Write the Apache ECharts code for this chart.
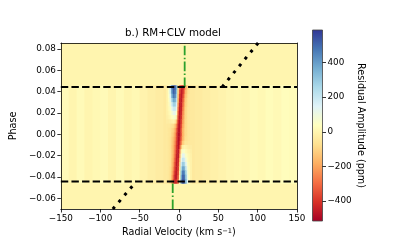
<!DOCTYPE html>
<html><head><meta charset="utf-8">
<script src="https://cdn.jsdelivr.net/npm/echarts@6/dist/echarts.min.js"></script>
<style>html,body{margin:0;padding:0;background:#fff}#c{width:399px;height:249px}</style>
</head><body><div id="c"></div>
<script>
// ---------- data ----------
const xTicks = [-150, -100, -50, 0, 50, 100, 150];
const yTicks = [-0.06, -0.04, -0.02, 0.0, 0.02, 0.04, 0.06, 0.08];
const cbTicks = [-400, -200, 0, 200, 400];
const velRange = [-150, 150];
const phaseRange = [-0.0701, 0.0857];
const ampRange = [-515, 588];
const backgroundAmp = 0;
const transitPhase = [0.0443, -0.0443];
const bandPhase = [-0.046, 0.046];

// central model grid: velocity cell centres (km/s, 2 km/s wide), phase row centres (0.004 tall)
const gridVel = [-15, -13, -11, -9, -7, -5, -3, -1, 1, 3, 5, 7, 9, 11, 13, 15];
const gridPhase = [0.044, 0.040, 0.036, 0.032, 0.028, 0.024, 0.020, 0.016, 0.012, 0.008, 0.004, 0.000,
  -0.004, -0.008, -0.012, -0.016, -0.020, -0.024, -0.028, -0.032, -0.036, -0.040, -0.044];
const gridAmp = [
  [-10, 60, 200, 430, 540, 520, 350, -60, -300, -430, -440, -330, -170, -100, -60, -40],
  [-10, 50, 180, 400, 520, 500, 320, -100, -350, -450, -420, -280, -150, -90, -60, -40],
  [-10, 40, 150, 340, 470, 460, 280, -140, -400, -460, -390, -230, -130, -80, -50, -40],
  [-10, 30, 110, 260, 380, 380, 220, -180, -430, -460, -350, -200, -110, -70, -50, -40],
  [-10, 20, 80, 180, 280, 290, 160, -230, -450, -450, -320, -180, -100, -70, -50, -40],
  [-10, 10, 50, 120, 190, 200, 100, -280, -460, -440, -290, -160, -90, -60, -50, -40],
  [-15, 0, 30, 70, 120, 130, 40, -330, -470, -430, -260, -150, -90, -60, -50, -40],
  [-20, -10, 10, 30, 60, 60, -40, -370, -470, -410, -240, -140, -90, -60, -50, -40],
  [-30, -30, -20, -10, 0, -20, -150, -410, -470, -380, -220, -130, -80, -60, -50, -40],
  [-40, -40, -50, -60, -80, -130, -250, -440, -470, -350, -200, -120, -80, -60, -50, -40],
  [-40, -50, -60, -80, -110, -170, -310, -460, -470, -320, -180, -110, -80, -60, -50, -40],
  [-40, -50, -60, -90, -130, -200, -350, -480, -470, -330, -180, -110, -80, -60, -50, -40],
  [-40, -50, -70, -100, -150, -220, -360, -480, -450, -300, -170, -100, -70, -60, -50, -40],
  [-40, -50, -70, -100, -160, -240, -380, -480, -420, -250, -120, -70, -50, -50, -40, -40],
  [-40, -50, -70, -110, -170, -260, -400, -480, -380, -130, -20, 0, -10, -20, -30, -30],
  [-40, -50, -70, -110, -180, -280, -420, -470, -300, 0, 60, 50, 20, 0, -10, -20],
  [-40, -50, -70, -110, -190, -300, -440, -470, -240, 60, 140, 110, 50, 20, 0, -15],
  [-40, -50, -70, -120, -200, -330, -450, -440, -180, 120, 210, 180, 90, 30, 0, -10],
  [-40, -50, -70, -120, -220, -360, -460, -420, -120, 190, 300, 260, 140, 50, 10, -10],
  [-40, -50, -80, -130, -250, -390, -460, -400, -70, 260, 390, 350, 200, 70, 20, -10],
  [-40, -50, -80, -140, -280, -420, -460, -370, -20, 330, 480, 430, 260, 90, 20, -10],
  [-40, -50, -80, -160, -320, -450, -450, -340, 20, 380, 520, 480, 300, 110, 30, -10],
  [-40, -50, -90, -180, -360, -440, -420, -300, 60, 420, 540, 510, 330, 130, 30, -10]
];
const gridVelHalfWidth = 1;
const gridPhaseHalfHeight = 0.002;

// faint vertical stripes across the in-transit band, outside the central grid
const stripeEdgesLeft = [-150, -140, -130, -120, -110, -100, -90, -80, -70, -60, -50, -40, -30, -20, -16];
const stripeAmpLeft = [20, 0, 20, 0, 10, 20, 0, 20, 0, 10, -5, -20, -30, -40];
const stripeEdgesRight = [16, 20, 30, 40, 50, 60, 70, 80, 90, 100, 110, 120, 130, 140, 150];
const stripeAmpRight = [-40, -35, -25, -15, -5, 5, 10, 5, 20, 10, 25, 15, 30, 25];

const greenUpper = [[7.3, 0.0443], [7.3, 0.0857]];
const greenLower = [[-7.9, -0.0701], [-7.9, -0.0443]];
const dotUpper = [[54.8, 0.0443], [100.6, 0.0857]];
const dotLower = [[-84.0, -0.0701], [-54.2, -0.0443]];

// ---------- build ----------
const RdYlBu = ['#a50026','#d73027','#f46d43','#fdae61','#fee090','#ffffbf','#e0f3f8','#abd9e9','#74add1','#4575b4','#313695'];
const FONT = 'DejaVu Sans';
const minus = s => String(s).replace(/-/g, '\u2212');

const heat = [];
heat.push([velRange[0], velRange[1], phaseRange[0], phaseRange[1], backgroundAmp]);
for (let i = 0; i < stripeAmpLeft.length; i++)
  heat.push([stripeEdgesLeft[i], stripeEdgesLeft[i + 1], bandPhase[0], bandPhase[1], stripeAmpLeft[i]]);
for (let i = 0; i < stripeAmpRight.length; i++)
  heat.push([stripeEdgesRight[i], stripeEdgesRight[i + 1], bandPhase[0], bandPhase[1], stripeAmpRight[i]]);
gridPhase.forEach((p, r) => gridVel.forEach((v, c) => {
  heat.push([v - gridVelHalfWidth, v + gridVelHalfWidth, p - gridPhaseHalfHeight, p + gridPhaseHalfHeight, gridAmp[r][c]]);
}));

function rectItem(params, api) {
  const a = api.coord([api.value(0), api.value(3)]);
  const b = api.coord([api.value(1), api.value(2)]);
  return { type: 'rect', shape: { x: a[0], y: a[1], width: b[0] - a[0] + 0.4, height: b[1] - a[1] + 0.4 },
    style: { fill: api.visual('color') } };
}

const stops = RdYlBu.map((c, i) => ({ offset: i / (RdYlBu.length - 1), color: c }));

const chart = echarts.init(document.getElementById('c'), null, { renderer: 'canvas' });
const lbl = { fontFamily: FONT, fontSize: 8.8, color: '#000' };
const nameLbl = { fontFamily: FONT, fontSize: 9.6, color: '#000' };
const spine = { show: true, onZero: false, lineStyle: { color: '#000', width: 0.8 } };
chart.setOption({
  animation: false,
  backgroundColor: '#fff',
  grid: [
    { left: 49, top: 43, width: 248, height: 166 },
    { left: 312.5, top: 30, width: 10, height: 191 }
  ],
  graphic: [{ type: 'text', x: 173, y: 38, z: 20,
    style: { text: 'b.) RM+CLV model', font: '10.3px "DejaVu Sans"', fill: '#000', textAlign: 'center', textVerticalAlign: 'bottom' } }],
  visualMap: { type: 'continuous', show: false, seriesIndex: 0, dimension: 4, min: ampRange[0], max: ampRange[1],
    inRange: { color: RdYlBu } },
  xAxis: [
    { gridIndex: 0, type: 'value', position: 'bottom', min: velRange[0], max: velRange[1], interval: 50, z: 10,
      axisLine: spine, axisTick: { show: true, length: 3.5, lineStyle: { color: '#000', width: 0.8 } },
      axisLabel: Object.assign({ margin: 5, formatter: v => minus(v) }, lbl), splitLine: { show: false },
      name: 'Radial Velocity (km s{sup|\u22121})', nameLocation: 'middle', nameGap: 16,
      nameTextStyle: Object.assign({ rich: { sup: { fontFamily: FONT, fontSize: 6.7, color: '#000', verticalAlign: 'top' } } }, nameLbl) },
    { gridIndex: 0, type: 'value', position: 'top', min: velRange[0], max: velRange[1], z: 10,
      axisLine: spine, axisTick: { show: false }, axisLabel: { show: false }, splitLine: { show: false } },
    { gridIndex: 1, type: 'value', min: 0, max: 1, show: false }
  ],
  yAxis: [
    { gridIndex: 0, type: 'value', position: 'left', min: phaseRange[0], max: phaseRange[1], z: 10,
      axisLine: spine, axisTick: { show: true, length: 3.5, customValues: yTicks, lineStyle: { color: '#000', width: 0.8 } },
      axisLabel: Object.assign({ margin: 5, customValues: yTicks, formatter: v => minus(v.toFixed(2)) }, lbl),
      splitLine: { show: false },
      name: 'Phase', nameLocation: 'middle', nameGap: 40, nameTextStyle: nameLbl },
    { gridIndex: 0, type: 'value', position: 'right', min: phaseRange[0], max: phaseRange[1], z: 10,
      axisLine: spine, axisTick: { show: false }, axisLabel: { show: false }, splitLine: { show: false } },
    { gridIndex: 1, type: 'value', position: 'right', min: ampRange[0], max: ampRange[1], z: 10,
      axisLine: { show: false, onZero: false },
      axisTick: { show: true, length: 3.5, customValues: cbTicks, lineStyle: { color: '#000', width: 0.8 } },
      axisLabel: Object.assign({ margin: 5, customValues: cbTicks, formatter: v => minus(v) }, lbl),
      splitLine: { show: false },
      name: 'Residual Amplitude (ppm)', nameLocation: 'middle', nameRotate: -90, nameGap: 25, nameTextStyle: nameLbl }
  ],
  series: [
    { type: 'custom', xAxisIndex: 0, yAxisIndex: 0, clip: true, renderItem: rectItem, data: heat, z: 2, silent: true },
    { type: 'line', xAxisIndex: 0, yAxisIndex: 0, data: greenUpper, symbol: 'none', z: 4, clip: true,
      lineStyle: { color: '#2ca02c', width: 1.8, type: [9.6, 2.4, 1.5, 2.4] } },
    { type: 'line', xAxisIndex: 0, yAxisIndex: 0, data: greenLower, symbol: 'none', z: 4, clip: true,
      lineStyle: { color: '#2ca02c', width: 1.8, type: [9.6, 2.4, 1.5, 2.4] } },
    { type: 'line', xAxisIndex: 0, yAxisIndex: 0, data: dotUpper, symbol: 'none', z: 4, clip: true,
      lineStyle: { color: '#000', width: 3, type: [3, 6] } },
    { type: 'line', xAxisIndex: 0, yAxisIndex: 0, data: dotLower, symbol: 'none', z: 4, clip: true,
      lineStyle: { color: '#000', width: 3, type: [3, 6] } },
    { type: 'line', xAxisIndex: 0, yAxisIndex: 0, data: [[velRange[0], transitPhase[0]], [velRange[1], transitPhase[0]]],
      symbol: 'none', z: 5, clip: true, lineStyle: { color: '#000', width: 2, type: [7.4, 3.2] } },
    { type: 'line', xAxisIndex: 0, yAxisIndex: 0, data: [[velRange[0], transitPhase[1]], [velRange[1], transitPhase[1]]],
      symbol: 'none', z: 5, clip: true, lineStyle: { color: '#000', width: 2, type: [7.4, 3.2] } },
    { type: 'custom', xAxisIndex: 2, yAxisIndex: 2, silent: true, data: [[0, 1, ampRange[0], ampRange[1]]],
      renderItem: (params, api) => {
        const a = api.coord([api.value(0), api.value(3)]);
        const b = api.coord([api.value(1), api.value(2)]);
        return { type: 'rect', shape: { x: a[0], y: a[1], width: b[0] - a[0], height: b[1] - a[1] },
          style: { fill: new echarts.graphic.LinearGradient(0, 1, 0, 0, stops), stroke: '#444', lineWidth: 0.8 } };
      } }
  ]
});
</script></body></html>
